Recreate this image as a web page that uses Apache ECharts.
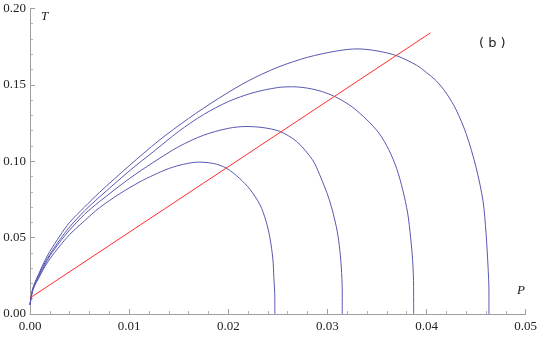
<!DOCTYPE html>
<html>
<head>
<meta charset="utf-8">
<script src="https://cdn.jsdelivr.net/npm/echarts@6/dist/echarts.min.js"></script>
<style>html,body{margin:0;padding:0;background:#fff}#c{width:540px;height:337px}</style>
</head>
<body>
<div id="c"></div>
<script>
// Data (P, T)
const curve1 = [[0,0.006],[0.0003,0.016],[0.001,0.025],[0.0015,0.031],[0.002,0.036],[0.003,0.0445],[0.004,0.052],[0.0055,0.061],[0.007,0.0695],[0.009,0.0785],[0.011,0.0862],[0.0125,0.0910],[0.014,0.0952],[0.0155,0.0980],[0.017,0.0994],[0.0185,0.0985],[0.0198,0.0955],[0.0211,0.0890],[0.0222,0.0815],[0.0232,0.0715],[0.0238,0.061],[0.0242,0.050],[0.0245,0.036],[0.0246,0.024],[0.0247,0.010],[0.0247,0]];
const curve2 = [[0,0.006],[0.0003,0.016],[0.001,0.026],[0.0015,0.032],[0.002,0.038],[0.003,0.047],[0.004,0.055],[0.0055,0.0652],[0.007,0.0735],[0.010,0.0885],[0.0125,0.0995],[0.015,0.1095],[0.0175,0.1170],[0.020,0.1215],[0.0218,0.1227],[0.0235,0.1220],[0.0252,0.1195],[0.0269,0.1129],[0.0285,0.1009],[0.0292,0.0915],[0.0302,0.0747],[0.0309,0.0572],[0.0312,0.045],[0.0314,0.031],[0.0315,0.015],[0.0315,0]];
const curve3 = [[0,0.006],[0.0003,0.017],[0.001,0.027],[0.0015,0.0335],[0.002,0.039],[0.003,0.0485],[0.004,0.057],[0.0055,0.0675],[0.007,0.0765],[0.010,0.0935],[0.0125,0.1065],[0.015,0.1195],[0.0175,0.1305],[0.020,0.139],[0.0225,0.1448],[0.025,0.1482],[0.0265,0.1487],[0.028,0.1478],[0.0295,0.1455],[0.031,0.1415],[0.0325,0.1355],[0.034,0.127],[0.0352,0.1184],[0.0362,0.1075],[0.0370,0.095],[0.0376,0.0813],[0.0381,0.066],[0.0384,0.050],[0.0386,0.035],[0.0387,0.018],[0.0387,0]];
const curve4 = [[0,0.006],[0.0003,0.017],[0.001,0.028],[0.0015,0.035],[0.002,0.041],[0.003,0.051],[0.004,0.060],[0.0055,0.070],[0.007,0.0795],[0.010,0.097],[0.013,0.1135],[0.016,0.128],[0.019,0.141],[0.022,0.1525],[0.025,0.1615],[0.028,0.168],[0.031,0.1722],[0.033,0.1735],[0.035,0.1722],[0.037,0.169],[0.039,0.1628],[0.040,0.158],[0.041,0.1525],[0.042,0.1445],[0.043,0.1335],[0.044,0.118],[0.045,0.096],[0.0457,0.074],[0.0460,0.0535],[0.0462,0.032],[0.0463,0.015],[0.0463,0]];
const redLine = [[0,0.0105],[0.0404,0.184]];
const xTicks = {min:0, max:0.05, interval:0.01};
const yTicks = {min:0, max:0.20, interval:0.05};

const chart = echarts.init(document.getElementById('c'), null, {renderer:'canvas'});
const blue = '#5858b0';
const axisCommon = {
  axisLine:{show:true, lineStyle:{color:'#a0a0a0', width:1}},
  axisTick:{show:true, inside:true, length:5, lineStyle:{color:'#a0a0a0'}},
  minorTick:{show:true, splitNumber:5, length:3, lineStyle:{color:'#b0b0b0'}},
  splitLine:{show:false},
  axisLabel:{color:'#222', fontFamily:'Liberation Serif', fontSize:13, formatter:v=>v.toFixed(2)}
};
const mk = (d,c)=>({type:'line', data:d, showSymbol:false, smooth:0.3, lineStyle:{color:c, width:1}, itemStyle:{color:c}, animation:false});
chart.setOption({
  animation:false,
  grid:{left:30, right:13.3, top:8.4, bottom:23, containLabel:false},
  xAxis:Object.assign({type:'value', min:xTicks.min, max:xTicks.max, interval:xTicks.interval}, axisCommon,
    {axisLabel:Object.assign({}, axisCommon.axisLabel, {margin:6})}),
  yAxis:Object.assign({type:'value', min:yTicks.min, max:yTicks.max, interval:yTicks.interval}, axisCommon,
    {axisLabel:Object.assign({}, axisCommon.axisLabel, {margin:4})}),
  series:[mk(curve1,blue), mk(curve2,blue), mk(curve3,blue), mk(curve4,blue),
    {type:'line', data:redLine, showSymbol:false, lineStyle:{color:'#ff2a2a', width:1}, animation:false}],
  graphic:[
    {type:'text', left:41, top:10, style:{text:'T', font:'italic 13px "Liberation Serif"', fill:'#222'}},
    {type:'text', left:517, top:284, style:{text:'P', font:'italic 13px "Liberation Serif"', fill:'#222'}},
    {type:'text', left:479, top:37, style:{text:'( b )', font:'13px "DejaVu Sans"', fill:'#222'}}
  ]
});
</script>
</body>
</html>
